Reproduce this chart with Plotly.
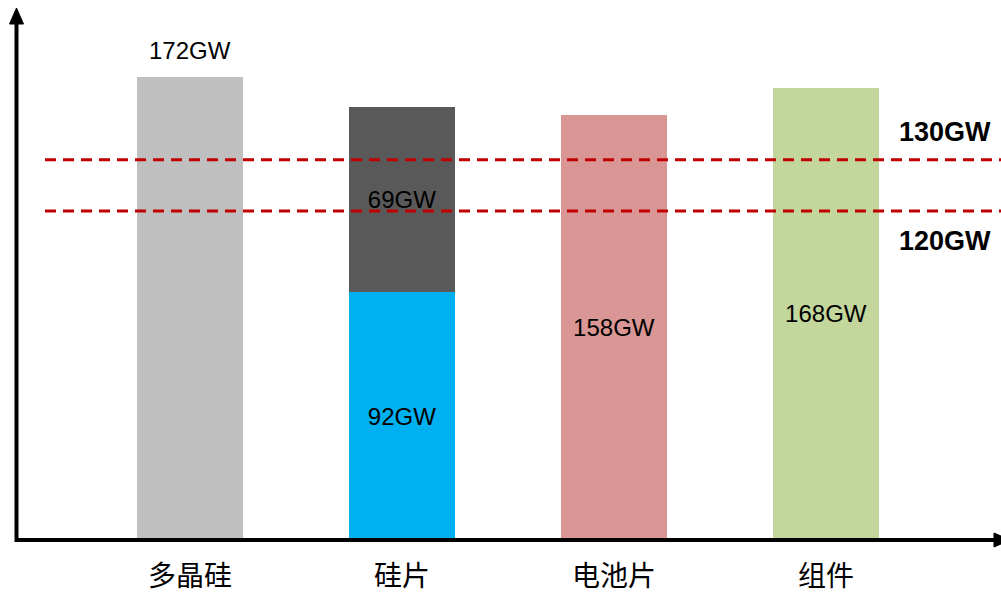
import plotly.graph_objects as go

categories = ["多晶硅", "硅片", "电池片", "组件"]
base_values = [172, 92, 158, 168]          # lower / single segment (GW)
top_values = [None, 69, None, None]        # upper segment of 硅片 (GW)
base_colors = ["#BFBFBF", "#00B0F0", "#D99694", "#C3D69B"]
top_color = "#595959"
ref_levels = [141.3, 122.3]                # where the dashed lines sit on the value axis
ref_labels = ["130GW", "120GW"]

W, H = 1001, 596
ML, MR, MT, MB = 17, 1, 0, 56
PW, PH = W - ML - MR, H - MT - MB

def px(xp):
    return (xp - ML) / PW

def py(yp):
    return (H - MB - yp) / PH

fig = go.Figure()

# base segments
inside_text = [None if i == 0 else f"{v}GW" for i, v in enumerate(base_values)]
fig.add_trace(go.Bar(
    x=categories, y=base_values, marker=dict(color=base_colors, line=dict(width=0)),
    width=0.5, text=inside_text, textposition="inside", insidetextanchor="middle",
    textfont=dict(family="Liberation Sans, Arial", size=24, color="#000000"),
    constraintext="none", hoverinfo="skip",
))
# stacked top segment
fig.add_trace(go.Bar(
    x=categories, y=[v if v is not None else 0 for v in top_values],
    marker=dict(color=top_color, line=dict(width=0)), width=0.5,
    text=[f"{v}GW" if v is not None else "" for v in top_values],
    textposition="inside", insidetextanchor="middle",
    textfont=dict(family="Liberation Sans, Arial", size=24, color="#000000"),
    constraintext="none", hoverinfo="skip",
))

annotations = []
# label above first bar
annotations.append(dict(x=categories[0], y=base_values[0], xref="x", yref="y",
                        text=f"{base_values[0]}GW", showarrow=False, yanchor="bottom", yshift=11,
                        font=dict(family="Liberation Sans, Arial", size=24, color="#000000")))
# category labels
for c in categories:
    annotations.append(dict(x=c, y=py(595), xref="x", yref="paper", text=c, showarrow=False,
                            yanchor="bottom", borderpad=0,
                            font=dict(family="Noto Sans CJK SC", size=28, color="#000000")))
# reference labels
for lab, ypix in zip(ref_labels, [132, 241]):
    annotations.append(dict(x=px(945), y=py(ypix), xref="paper", yref="paper", text=f"<b>{lab}</b>",
                            showarrow=False, xanchor="center", yanchor="middle",
                            font=dict(family="Liberation Sans, Arial", size=27, color="#000000")))

shapes = []
# dashed reference lines
for lv in ref_levels:
    shapes.append(dict(type="line", xref="paper", yref="y", x0=px(45), x1=px(1001), y0=lv, y1=lv,
                       line=dict(color="#C00000", width=3, dash="11px,7px"), layer="above"))
# axes
shapes.append(dict(type="line", xref="paper", yref="paper", x0=px(16.5), x1=px(16.5), y0=py(542), y1=py(20),
                   line=dict(color="#000000", width=4)))
shapes.append(dict(type="line", xref="paper", yref="paper", x0=px(15), x1=px(996), y0=py(540), y1=py(540),
                   line=dict(color="#000000", width=4)))
# arrowheads
shapes.append(dict(type="path", xref="paper", yref="paper",
                   path=f"M {px(9.5)} {py(24)} L {px(16.5)} {py(8)} L {px(23.5)} {py(24)} Z",
                   fillcolor="#000000", line=dict(color="#000000", width=1)))
shapes.append(dict(type="path", xref="paper", yref="paper",
                   path=f"M {px(994)} {py(533)} L {px(1010)} {py(540)} L {px(994)} {py(547)} Z",
                   fillcolor="#000000", line=dict(color="#000000", width=1)))

fig.update_layout(
    width=W, height=H, margin=dict(l=ML, r=MR, t=MT, b=MB),
    barmode="stack", showlegend=False,
    plot_bgcolor="#FFFFFF", paper_bgcolor="#FFFFFF",
    xaxis=dict(type="category", range=[-0.816, 3.821], showticklabels=False, showgrid=False,
               zeroline=False, showline=False, ticks=""),
    yaxis=dict(range=[0, 200.7], showticklabels=False, showgrid=False, zeroline=False,
               showline=False, ticks=""),
    annotations=annotations, shapes=shapes,
)

fig.write_html("out.html")
